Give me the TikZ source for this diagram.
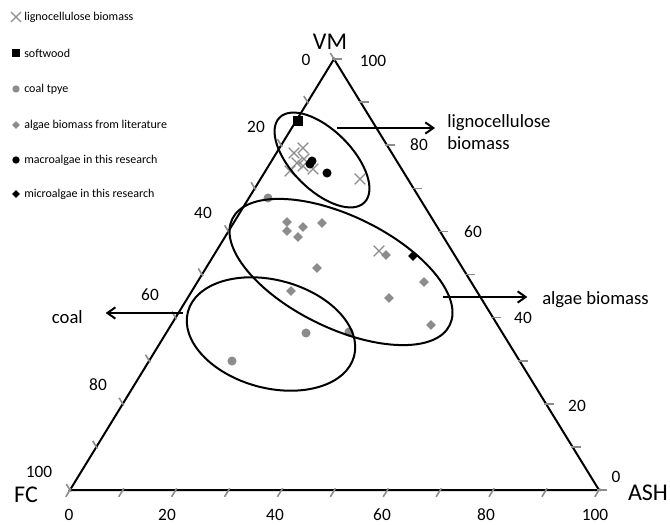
\documentclass[tikz,border=0pt]{standalone}
\usepackage{fontspec}
\setmainfont{Carlito}
\usetikzlibrary{shapes.geometric,shapes.misc,arrows.meta}
\definecolor{markgrey}{RGB}{140,140,140}
\tikzset{
  sideline/.style={line width=1.5pt, line join=miter},
  tickmark/.style={line width=1.2pt, draw=markgrey},
  ring/.style={line width=1.5pt},
  pointer/.style={line width=1.5pt, -{Straight Barb[length=6pt,width=8.5pt]}},
  numlabel/.style={font=\fontsize{13}{15}\selectfont, inner sep=0pt},
  axisname/.style={font=\fontsize{18}{21}\selectfont, inner sep=0pt},
  grouplabel/.style={font=\fontsize{14}{16.5}\selectfont, inner sep=0pt, align=left},
  legendtext/.style={font=\fontsize{9}{11}\selectfont, inner sep=0pt, anchor=west},
  xmark/.style={cross out, draw=markgrey, line width=1pt, inner sep=0pt, minimum size=7pt},
  squaremark/.style={rectangle, fill=black, inner sep=0pt, minimum size=7.5pt},
  dotmark/.style={circle, fill=#1, inner sep=0pt, minimum size=6.8pt},
  diamondmark/.style={diamond, fill=#1, inner sep=0pt, minimum size=7.5pt},
}
\begin{document}
\begin{tikzpicture}[x=0.75pt, y=-0.75pt]
\useasboundingbox (0,0) rectangle (670,524);

% Marking points lignocellulose biomass
\node [xmark] (ligA) at (303,148) {};
\node [xmark] (ligB) at (294,153) {};
\node [xmark] (ligC) at (304,159) {};
\node [xmark] (ligD) at (297,163) {};
\node [xmark] (ligE) at (303,166) {};
\node [xmark] (ligF) at (313,169) {};
\node [xmark] (ligG) at (290,171) {};
\node [xmark] (ligH) at (360,179) {};
\node [xmark] (ligI) at (379,251) {};

% Marking point softwood
\node [squaremark] (soft) at (298,121) {};

% Marking points coal tpye
\node [dotmark=markgrey] (coalA) at (268,198) {};
\node [dotmark=markgrey] (coalB) at (306,333) {};
\node [dotmark=markgrey] (coalC) at (232,361) {};
\node [dotmark=markgrey] (coalD) at (349,332) {};

% Marking points algae biomass from literature
\node [diamondmark=markgrey] (algA) at (287,222) {};
\node [diamondmark=markgrey] (algB) at (303,227) {};
\node [diamondmark=markgrey] (algC) at (322,223) {};
\node [diamondmark=markgrey] (algD) at (287,231) {};
\node [diamondmark=markgrey] (algE) at (298,237) {};
\node [diamondmark=markgrey] (algF) at (386,255) {};
\node [diamondmark=markgrey] (algG) at (317,268) {};
\node [diamondmark=markgrey] (algH) at (424,282) {};
\node [diamondmark=markgrey] (algI) at (291,291) {};
\node [diamondmark=markgrey] (algJ) at (389,298) {};
\node [diamondmark=markgrey] (algK) at (431,325) {};

% Marking points macroalgae and microalgae in this research
\node [dotmark=black] (macA) at (310,164) {};
\node [dotmark=black] (macB) at (312,161) {};
\node [dotmark=black] (macC) at (327,173) {};
\node [diamondmark=black] (micA) at (413,256) {};

% Drawing triangle
\coordinate (FC) at (70,490);
\coordinate (ASH) at (599,490);
\coordinate (VM) at (334,59);
\draw [sideline] (FC) -- (ASH) -- (VM) -- cycle;

% Drawing ticks on FC-ASH side
\draw [tickmark] (71.0,488.3) -- (65.8,496.8);
\draw [tickmark] (123.9,488.3) -- (118.7,496.8);
\draw [tickmark] (176.8,488.3) -- (171.6,496.8);
\draw [tickmark] (229.7,488.3) -- (224.5,496.8);
\draw [tickmark] (282.6,488.3) -- (277.4,496.8);
\draw [tickmark] (335.5,488.3) -- (330.3,496.8);
\draw [tickmark] (388.4,488.3) -- (383.2,496.8);
\draw [tickmark] (441.3,488.3) -- (436.1,496.8);
\draw [tickmark] (494.2,488.3) -- (489.0,496.8);
\draw [tickmark] (547.1,488.3) -- (541.9,496.8);
\draw [tickmark] (600.0,488.3) -- (594.8,496.8);

% Drawing ticks on VM-FC side
\draw [tickmark] (330.3,53.0) -- (335.0,60.7);
\draw [tickmark] (303.9,96.1) -- (308.6,103.8);
\draw [tickmark] (277.5,139.2) -- (282.2,146.9);
\draw [tickmark] (251.1,182.3) -- (255.8,190.0);
\draw [tickmark] (224.7,225.4) -- (229.4,233.1);
\draw [tickmark] (198.3,268.5) -- (203.0,276.2);
\draw [tickmark] (171.9,311.6) -- (176.6,319.3);
\draw [tickmark] (145.5,354.7) -- (150.2,362.4);
\draw [tickmark] (119.1,397.8) -- (123.8,405.5);
\draw [tickmark] (92.7,440.9) -- (97.4,448.6);
\draw [tickmark] (66.3,484.0) -- (71.0,491.7);

% Drawing ticks on ASH-VM side
\draw [tickmark] (597.0,490.0) -- (607.0,490.0);
\draw [tickmark] (570.5,446.9) -- (580.5,446.9);
\draw [tickmark] (544.0,403.8) -- (554.0,403.8);
\draw [tickmark] (517.5,360.7) -- (527.5,360.7);
\draw [tickmark] (491.0,317.6) -- (501.0,317.6);
\draw [tickmark] (464.5,274.5) -- (474.5,274.5);
\draw [tickmark] (438.0,231.4) -- (448.0,231.4);
\draw [tickmark] (411.5,188.3) -- (421.5,188.3);
\draw [tickmark] (385.0,145.2) -- (395.0,145.2);
\draw [tickmark] (358.5,102.1) -- (368.5,102.1);
\draw [tickmark] (332.0,59.0) -- (342.0,59.0);

% Marking axis values
\node [numlabel] (fcA) at (306,60) {0};
\node [numlabel] (fcB) at (256,127) {20};
\node [numlabel] (fcC) at (203,213) {40};
\node [numlabel] (fcD) at (150,295) {60};
\node [numlabel] (fcE) at (98,385) {80};
\node [numlabel] (fcF) at (39,472) {100};
\node [numlabel] (vmA) at (616,477) {0};
\node [numlabel] (vmB) at (577,406) {20};
\node [numlabel] (vmC) at (523,318) {40};
\node [numlabel] (vmD) at (473,232) {60};
\node [numlabel] (vmE) at (419,145) {80};
\node [numlabel] (vmF) at (373,61) {100};
\node [numlabel] (ashA) at (69,515) {0};
\node [numlabel] (ashB) at (167,515) {20};
\node [numlabel] (ashC) at (275,515) {40};
\node [numlabel] (ashD) at (382,515) {60};
\node [numlabel] (ashE) at (486,515) {80};
\node [numlabel] (ashF) at (595,515) {100};

% Marking axis names
\node [axisname] (nameVM) at (330,42) {VM};
\node [axisname] (nameFC) at (26,495) {FC};
\node [axisname] (nameASH) at (648,493) {ASH};

% Drawing group ellipses
\draw [ring, rotate around={-45:(322,160)}] (322,160) ellipse [x radius=60, y radius=30];
\draw [ring, rotate around={-26:(341,272)}] (341,272) ellipse [x radius=121, y radius=56];
\draw [ring, rotate around={-15:(271,334)}] (271,334) ellipse [x radius=86, y radius=54];

% Marking group names
\node [grouplabel, anchor=west] (lignoName) at (447,132) {lignocellulose\\biomass};
\node [grouplabel, anchor=west] (algaeName) at (542,300) {algae biomass};
\node [grouplabel, anchor=east] (coalName) at (83,317) {coal};

% Drawing pointers
\coordinate (lignoTail) at (337,128);
\coordinate (algaeTail) at (443,297);
\coordinate (coalTail) at (183,313);
\draw [pointer, shorten >=9pt] (lignoTail) -- (lignoTail -| lignoName.west);
\draw [pointer, shorten >=11pt] (algaeTail) -- (algaeTail -| algaeName.west);
\draw [pointer, shorten >=17pt] (coalTail) -- (coalTail -| coalName.east);

% Drawing legend
\node [xmark, minimum size=6.5pt] (keyLig) at (16,17) {};
\node [legendtext] (keyLigText) at (24,17) {lignocellulose biomass};
\node [squaremark, minimum size=6.5pt] (keySoft) at (16,53) {};
\node [legendtext] (keySoftText) at (24,53) {softwood};
\node [dotmark=markgrey, minimum size=5.5pt] (keyCoal) at (16,89) {};
\node [legendtext] (keyCoalText) at (24,89) {coal tpye};
\node [diamondmark=markgrey, minimum size=6pt] (keyAlg) at (16,125) {};
\node [legendtext] (keyAlgText) at (24,125) {algae biomass from literature};
\node [dotmark=black, minimum size=5.5pt] (keyMac) at (16,160) {};
\node [legendtext] (keyMacText) at (24,160) {macroalgae in this research};
\node [diamondmark=black, minimum size=6pt] (keyMic) at (16,194) {};
\node [legendtext] (keyMicText) at (24,194) {microalgae in this research};
\end{tikzpicture}
\end{document}
